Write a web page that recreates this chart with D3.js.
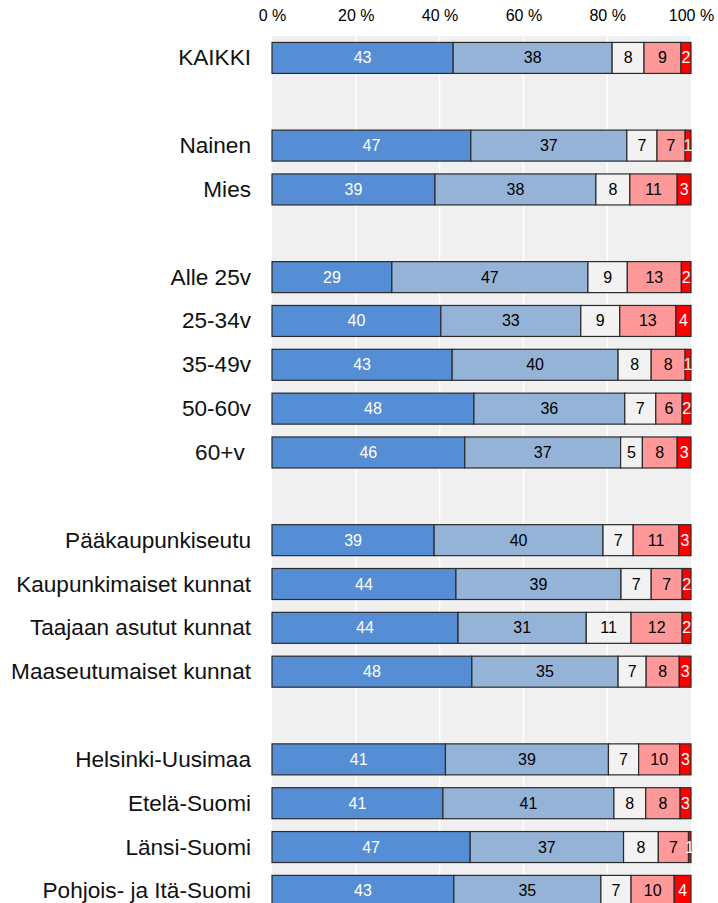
<!DOCTYPE html>
<html>
<head>
<meta charset="utf-8">
<script src="https://cdn.jsdelivr.net/npm/d3@7"></script>
<style>
  html, body { margin: 0; padding: 0; background: #ffffff; }
  svg text { font-family: "Liberation Sans", Arial, sans-serif; white-space: pre; }
</style>
</head>
<body>
<div id="chart"></div>
<script>
// ---- Data ----
// Row order top to bottom; null marks an empty spacer row
const categories = [
  "KAIKKI", null,
  "Nainen", "Mies", null,
  "Alle 25v", "25-34v", "35-49v", "50-60v", "60+v ", null,
  "Pääkaupunkiseutu", "Kaupunkimaiset kunnat", "Taajaan asutut kunnat", "Maaseutumaiset kunnat", null,
  "Helsinki-Uusimaa", "Etelä-Suomi", "Länsi-Suomi", "Pohjois- ja Itä-Suomi"
];
const seriesNames = ["s1", "s2", "s3", "s4", "s5"];
// Percent values per series, one entry per non-empty category (in order)
const s1 = [43.2, 47.4, 38.9, 28.6, 40.3, 43.0, 48.2, 46.0, 38.7, 43.9, 44.4, 47.7, 41.4, 40.8, 47.3, 43.4];
const s2 = [37.9, 37.2, 38.4, 46.8, 33.4, 39.6, 36.0, 37.2, 40.3, 39.4, 30.6, 34.9, 38.9, 40.8, 36.6, 35.1];
const s3 = [ 7.6,  7.2,  8.1,  9.4,  9.3,  7.9,  7.4,  5.2,  7.2,  7.2, 10.7,  6.7,  7.2,  7.6,  8.3,  7.2];
const s4 = [ 8.8,  6.7, 11.3, 12.9, 13.4,  8.1,  6.3,  8.3, 10.9,  7.4, 12.2,  7.9,  9.8,  8.2,  7.2, 10.3];
const s5 = [ 2.4,  1.4,  3.3,  2.3,  3.6,  1.4,  2.1,  3.3,  2.9,  2.1,  2.1,  2.8,  2.7,  2.6,  0.6,  4.0];
const tickValues = [0, 20, 40, 60, 80, 100];
const tickLabels = ["0 %", "20 %", "40 %", "60 %", "80 %", "100 %"];

const colors = ["#558ED5", "#95B3D7", "#F2F2F2", "#FF9999", "#FF0000"];
const textColors = ["#ffffff", "#000000", "#000000", "#000000", "#ffffff"];

// ---- Build rows ----
const seriesVals = [s1, s2, s3, s4, s5];
const slotKeys = categories.map((c, i) => c === null ? "__gap" + i : c);
const realCats = categories.filter(c => c !== null);
const rows = realCats.map((c, i) => {
  const vals = seriesVals.map(s => s[i]);
  const total = d3.sum(vals);
  const row = { cat: c, total };
  seriesNames.forEach((k, j) => row[k] = vals[j] / total * 100);
  row.raw = vals;
  return row;
});

const stack = d3.stack().keys(seriesNames);
const stacked = stack(rows);

// ---- Layout ----
const W = 718, H = 903;
const x0 = 272, x1 = 691;
const yTop = 36, step = 43.84;

const svg = d3.select("#chart").append("svg")
  .attr("width", W).attr("height", H);

const x = d3.scaleLinear().domain([0, 100]).range([x0, x1]);
const y = d3.scaleBand().domain(slotKeys)
  .range([yTop, yTop + step * slotKeys.length])
  .paddingInner(0.293).paddingOuter(0.1465);

// background panel
svg.append("rect")
  .attr("x", x(0)).attr("y", yTop)
  .attr("width", x(100) - x(0)).attr("height", step * slotKeys.length)
  .attr("fill", "#F0F0F0");

// gridlines
svg.append("g").selectAll("line")
  .data(tickValues.filter(v => v > 0 && v < 100))
  .join("line")
  .attr("x1", d => x(d)).attr("x2", d => x(d))
  .attr("y1", yTop).attr("y2", yTop + step * slotKeys.length)
  .attr("stroke", "#ffffff").attr("stroke-width", 1.5);

// top axis
const axis = d3.axisTop(x).tickValues(tickValues)
  .tickFormat((d, i) => tickLabels[i]).tickSize(0).tickPadding(0);
const ag = svg.append("g").attr("transform", "translate(0,21)").call(axis);
ag.select(".domain").remove();
ag.selectAll("text").attr("font-size", 16).attr("fill", "#000")
  .style("font-family", "'Liberation Sans', Arial, sans-serif");

// category labels
svg.append("g").selectAll("text")
  .data(rows)
  .join("text")
  .attr("x", 251)
  .attr("y", d => y(d.cat) + y.bandwidth() / 2)
  .attr("text-anchor", "end")
  .attr("dominant-baseline", "central")
  .attr("font-size", 22.6)
  .attr("fill", "#111")
  .text(d => d.cat);

// bars
const layers = svg.append("g").selectAll("g")
  .data(stacked)
  .join("g")
  .attr("fill", (d, i) => colors[i]);

layers.selectAll("rect")
  .data(d => d)
  .join("rect")
  .attr("x", d => x(d[0]))
  .attr("y", d => y(d.data.cat))
  .attr("width", d => x(d[1]) - x(d[0]))
  .attr("height", y.bandwidth())
  .attr("stroke", "#2b2b2b")
  .attr("stroke-width", 1.2);

// value labels
const lab = svg.append("g");
stacked.forEach((layer, si) => {
  lab.selectAll("text.s" + si)
    .data(layer)
    .join("text")
    .attr("class", "s" + si)
    .attr("x", d => (x(d[0]) + x(d[1])) / 2)
    .attr("y", d => y(d.data.cat) + y.bandwidth() / 2)
    .attr("text-anchor", "middle")
    .attr("dominant-baseline", "central")
    .attr("font-size", 16)
    .attr("fill", textColors[si])
    .text(d => Math.round(d.data.raw[si]));
});
</script>
</body>
</html>
